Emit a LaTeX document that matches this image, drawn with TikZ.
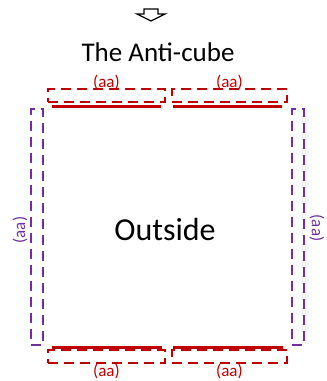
\documentclass[tikz,border=0pt]{standalone}
\usepackage{fontspec}
\setmainfont{Carlito}
\usepackage{xcolor}
\usetikzlibrary{positioning,calc}
\definecolor{bardred}{HTML}{C00000}
\definecolor{sidepurple}{HTML}{7030A0}

\begin{document}
\begin{tikzpicture}[x=1pt,y=-1pt,
  redbox/.style={draw=bardred,line width=2pt,dash pattern=on 10pt off 6pt,minimum height=13pt,inner sep=0pt},
  purplebox/.style={draw=sidepurple,line width=2pt,dash pattern=on 10pt off 6pt,minimum width=12pt,minimum height=236pt,inner sep=0pt},
  redbar/.style={draw=bardred,line width=3pt},
  redtag/.style={text=bardred,font=\fontsize{17}{17}\selectfont,inner sep=1pt},
  purpletag/.style={text=sidepurple,font=\fontsize{17}{17}\selectfont,inner sep=1pt}]
\useasboundingbox (0,0) rectangle (327,381);

% Down arrow
\draw[line width=1.3pt,line join=miter] (144,9) -- (158,9) -- (158,14) -- (165,14) -- (151,21) -- (137,14) -- (144,14) -- cycle;

% Titles
\node[font=\fontsize{27}{27}\selectfont] (title) at (158,52) {The Anti-cube};
\node[font=\fontsize{32}{32}\selectfont] (outside) at (165,230) {Outside};

% Top faces
\node[redbox,minimum width=117pt] (tl) at (106.5,95.5) {};
\node[redbox,minimum width=115pt] (tr) at (229.5,95.5) {};
\node[redtag,above=-3pt of tl] (tltag) {(aa)};
\node[redtag,above=-3pt of tr] (trtag) {(aa)};
\draw[redbar] (52,106) -- (161,106);
\draw[redbar] (173,106) -- (282,106);

% Bottom faces
\node[redbox,minimum width=117pt] (bl) at (106.5,356.5) {};
\node[redbox,minimum width=115pt] (br) at (229.5,356.5) {};
\node[redtag,below=-1pt of bl] (bltag) {(aa)};
\node[redtag,below=-1pt of br] (brtag) {(aa)};
\draw[redbar] (52,347) -- (162,347);
\draw[redbar] (173,347) -- (283,347);

% Side faces
\node[purplebox] (lside) at (37,227) {};
\node[purplebox] (rside) at (298,227) {};
\node[purpletag,rotate=90] (ltag) at ($(lside.west)+(-10,3)$) {(aa)};
\node[purpletag,rotate=-90] (rtag) at ($(rside.east)+(12,1)$) {(aa)};
\end{tikzpicture}
\end{document}
